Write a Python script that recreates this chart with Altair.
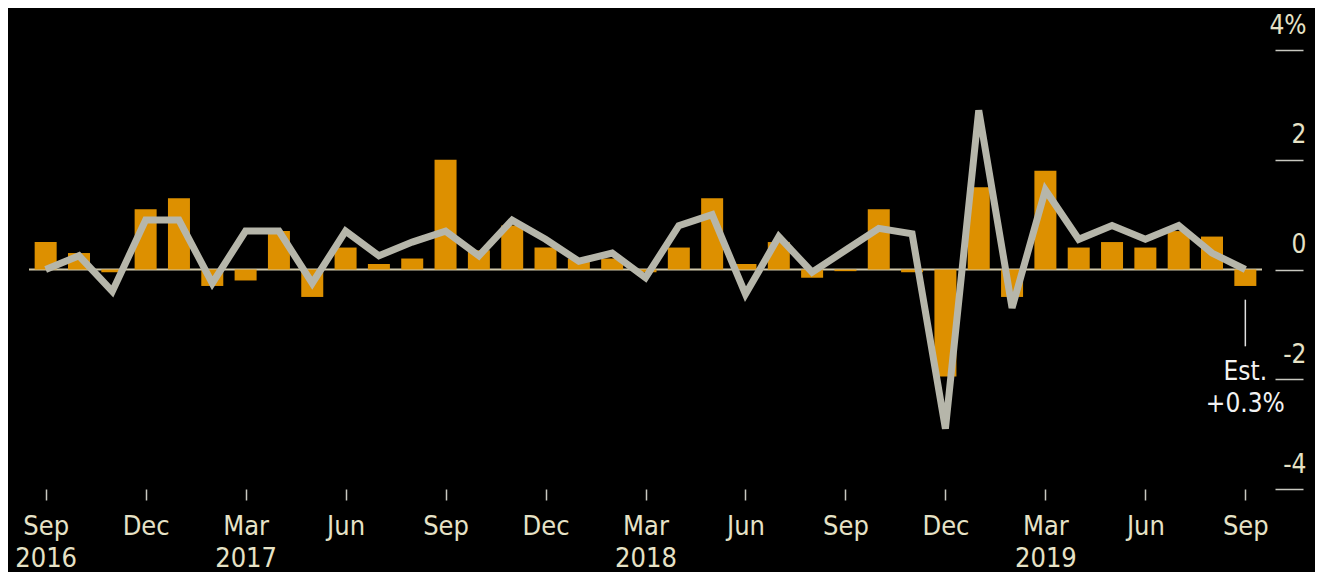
import json
import altair as alt
import pandas as pd

# ---- data (Sep 2016 .. Sep 2019, monthly) ----
month_idx = list(range(37))
retail_sales = [0.5, 0.3, -0.05, 1.1, 1.3, -0.3, -0.2, 0.7, -0.5, 0.4, 0.1, 0.2,
                2.0, 0.35, 0.8, 0.4, 0.2, 0.2, -0.05, 0.4, 1.3, 0.1, 0.5, -0.15,
                -0.03, 1.1, -0.05, -1.95, 1.5, -0.5, 1.8, 0.4, 0.5, 0.4, 0.7, 0.6, -0.3]
control_group = [0.0, 0.25, -0.4, 0.9, 0.9, -0.25, 0.7, 0.7, -0.25, 0.7, 0.25, 0.5,
                 0.7, 0.25, 0.9, 0.55, 0.15, 0.3, -0.15, 0.8, 1.0, -0.45, 0.6, -0.05,
                 0.35, 0.75, 0.65, -2.9, 2.9, -0.7, 1.45, 0.55, 0.8, 0.55, 0.8, 0.3, 0.0]

x_tick_values = list(range(0, 37, 3))
x_month_labels = ["Sep", "Dec", "Mar", "Jun", "Sep", "Dec", "Mar", "Jun", "Sep", "Dec", "Mar", "Jun", "Sep"]
x_year_labels = ["2016", "", "2017", "", "", "", "2018", "", "", "", "2019", "", ""]

y_tick_values = [-4, -2, 0, 2, 4]
y_tick_labels = ["-4", "-2", "0", "2", "4%"]

est_month = 36
est_line_from, est_line_to = -0.55, -1.4
est_texts = ["Est.", "+0.3%"]
est_text_y = [-1.87, -2.45]

# ---- styling ----
FONT = "Liberation Sans Narrow, DejaVu Sans Condensed, sans-serif"
BAR_COLOR = "#DD9000"
LINE_COLOR = "#B6B6AA"
TEXT_COLOR = "#E6E2C6"
TICK_COLOR = "#C8C8C0"

df = pd.DataFrame({"m": month_idx, "retail": retail_sales, "control": control_group})
zero_df = pd.DataFrame({"m": [0], "retail": [0.0]})
est_df = pd.DataFrame({"m": [est_month], "retail": [est_line_from], "y2": [est_line_to]})
est_txt_df = pd.DataFrame({"m": [est_month] * 2, "retail": est_text_y, "t": est_texts})

x_labels_arr = [[m, y] if y else m for m, y in zip(x_month_labels, x_year_labels)]
x_label_expr = json.dumps(x_labels_arr) + "[round(datum.value/3)]"
y_label_expr = json.dumps(y_tick_labels) + "[round((datum.value+4)/2)]"

xscale = alt.Scale(domain=[-0.35, 36.35], nice=False, zero=False)
yscale = alt.Scale(domain=[-4, 4], nice=False)

x_axis = alt.Axis(values=x_tick_values, labelExpr=x_label_expr, title=None,
                  domain=False, grid=False, tickSize=11, tickWidth=1.5,
                  tickColor=TICK_COLOR, labelPadding=13, labelBaseline="top",
                  labelLineHeight=32, labelFontSize=27, labelFont=FONT,
                  labelColor=TEXT_COLOR, labelFlush=False, labelOverlap=False)
y_axis = alt.Axis(orient="right", values=y_tick_values, labelExpr=y_label_expr,
                  title=None, domain=False, grid=False, offset=13, tickSize=28,
                  tickWidth=1.5, tickColor=TICK_COLOR, labelPadding=3,
                  labelAlign="right", labelBaseline="middle", labelOffset=-25,
                  labelFontSize=26, labelFont=FONT, labelColor=TEXT_COLOR,
                  labelFlush=False, labelOverlap=False)

X = alt.X("m:Q", scale=xscale, axis=x_axis)
Y = alt.Y("retail:Q", scale=yscale, axis=y_axis)

zero_rule = alt.Chart(zero_df).mark_rule(color="#CFC8AA", strokeWidth=2).encode(y=Y)

bars = alt.Chart(df).mark_bar(size=22, color=BAR_COLOR).encode(x=X, y=Y)

line = alt.Chart(df).mark_line(color=LINE_COLOR, strokeWidth=7, strokeJoin="miter").encode(
    x=X, y=alt.Y("control:Q", scale=yscale, axis=y_axis))

est_rule = alt.Chart(est_df).mark_rule(color="#E0E0E0", strokeWidth=1.5).encode(
    x=X, y=Y, y2="y2:Q")

est_text = alt.Chart(est_txt_df).mark_text(
    font=FONT, fontSize=26, color="#F2F2F2", align="center", baseline="middle"
).encode(x=X, y=Y, text="t:N")

chart = alt.layer(zero_rule, bars, line, est_rule, est_text).properties(
    width=1233, height=439,
    autosize=alt.AutoSizeParams(type="none"),
    padding={"left": 21, "top": 42, "right": 53, "bottom": 86},
    background="#000000",
).configure_view(stroke=None)

chart.save("out.html", embed_options={"renderer": "svg", "actions": False})
